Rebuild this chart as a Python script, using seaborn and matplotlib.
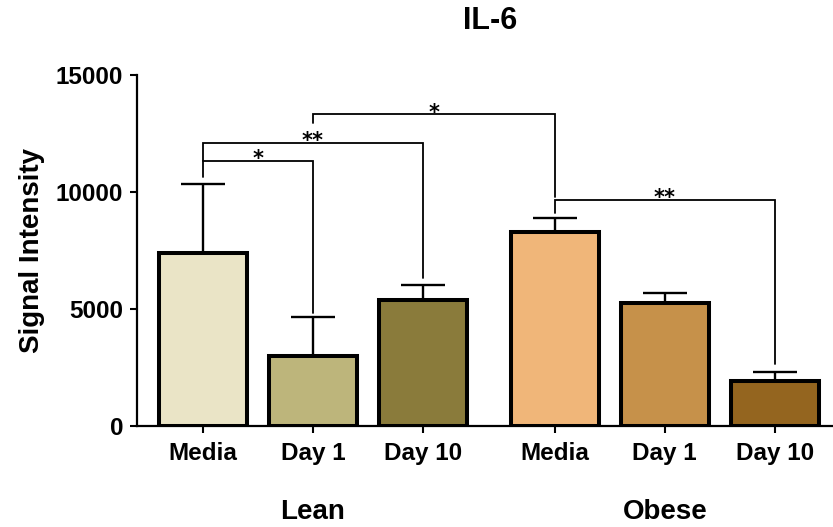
import numpy as np
import pandas as pd
import matplotlib
matplotlib.use("Agg")
import matplotlib.pyplot as plt
import matplotlib.transforms as mtransforms
import seaborn as sns

# ---- data ----
groups = ["Lean", "Obese"]
conditions = ["Media", "Day 1", "Day 10"]
lean_mean = [7400, 3000, 5380]
lean_sd = [2920, 1650, 640]
obese_mean = [8260, 5250, 1910]
obese_sd = [600, 410, 390]
colors = ["#EAE4C6", "#BDB57B", "#8A7B3B", "#F0B679", "#C6914A", "#94651F"]
yticks = [0, 5000, 10000, 15000]
# significance brackets: (bar i, bar j, level, start_i, start_j, label)
brackets = [
    (0, 1, 11300, 10640, 4820, "*"),
    (0, 2, 12100, 11300, 6310, "**"),
    (1, 3, 13300, 12920, 9790, "*"),
    (3, 5, 9650, 9090, 2640, "**"),
]

# ---- build table ----
group_gap = 0.2
rows = []
for gi, (g, means, sds) in enumerate(zip(groups, [lean_mean, obese_mean], [lean_sd, obese_sd])):
    for ci, c in enumerate(conditions):
        pos = gi * (len(conditions) + group_gap) + ci
        rows.append(dict(group=g, cond=c, label=f"{g} {c}", pos=pos, mean=means[ci], sd=sds[ci]))
df = pd.DataFrame(rows)

sns.set_style("ticks")
plt.rcParams["font.family"] = ["Liberation Sans", "DejaVu Sans"]
plt.rcParams["font.weight"] = "bold"
plt.rcParams["text.color"] = "black"
plt.rcParams["xtick.color"] = "black"
plt.rcParams["ytick.color"] = "black"
plt.rcParams["axes.labelcolor"] = "black"

fig = plt.figure(figsize=(8.33, 5.27), dpi=100)
ax = fig.add_axes([137 / 833, 101.3 / 527, 696 / 833, 351 / 527])

pal = dict(zip(df["label"], colors))
sns.barplot(data=df, x="pos", y="mean", hue="label", palette=pal, native_scale=True,
            dodge=False, width=0.8, errorbar=None, legend=False,
            edgecolor="black", linewidth=2.9, saturation=1, ax=ax, zorder=3)

ax.errorbar(df["pos"], df["mean"], yerr=[np.zeros(len(df)), df["sd"]], fmt="none",
            ecolor="black", elinewidth=1.7, capsize=16, capthick=1.7, zorder=2)

# brackets
pos = df["pos"].to_numpy()
for i, j, lvl, si, sj, txt in brackets:
    ax.plot([pos[i], pos[i], pos[j], pos[j]], [si, lvl, lvl, sj], color="black", lw=1.3,
            zorder=4, solid_joinstyle="miter")
    ax.annotate(txt, xy=((pos[i] + pos[j]) / 2, lvl), xytext=(0, -3), textcoords="offset points",
                ha="center", va="baseline", fontsize=15, fontweight="bold",
                family=["DejaVu Sans"])

ax.set_xlim(pos[0] - 0.6, pos[-1] + 0.53)
ax.set_ylim(0, 15000)
ax.set_yticks(yticks)
ax.set_yticklabels([str(t) for t in yticks], fontsize=17.5, fontweight="bold")
ax.set_xticks(pos)
ax.set_xticklabels(list(df["cond"]), fontsize=17.5, fontweight="bold")
ax.tick_params(axis="both", width=1.5, length=5, color="black")
ax.tick_params(axis="x", pad=7)
ax.tick_params(axis="y", pad=5)
ax.set_xlabel("")
ax.set_ylabel("Signal Intensity", fontsize=20, fontweight="bold")
ax.yaxis.set_label_coords(-0.132, 0.5)
for s in ["top", "right"]:
    ax.spines[s].set_visible(False)
for s in ["left", "bottom"]:
    ax.spines[s].set_linewidth(1.6)
    ax.spines[s].set_color("black")

trans = mtransforms.blended_transform_factory(ax.transData, fig.transFigure)
for gi, g in enumerate(groups):
    gpos = df.loc[df["group"] == g, "pos"].mean()
    ax.text(gpos, 1 - 512 / 527, g, transform=trans, ha="center", va="center",
            fontsize=20, fontweight="bold")

fig.text(490 / 833, 1 - 21 / 527, "IL-6", ha="center", va="center", fontsize=22, fontweight="bold")

fig.savefig("out.png", dpi=100)
